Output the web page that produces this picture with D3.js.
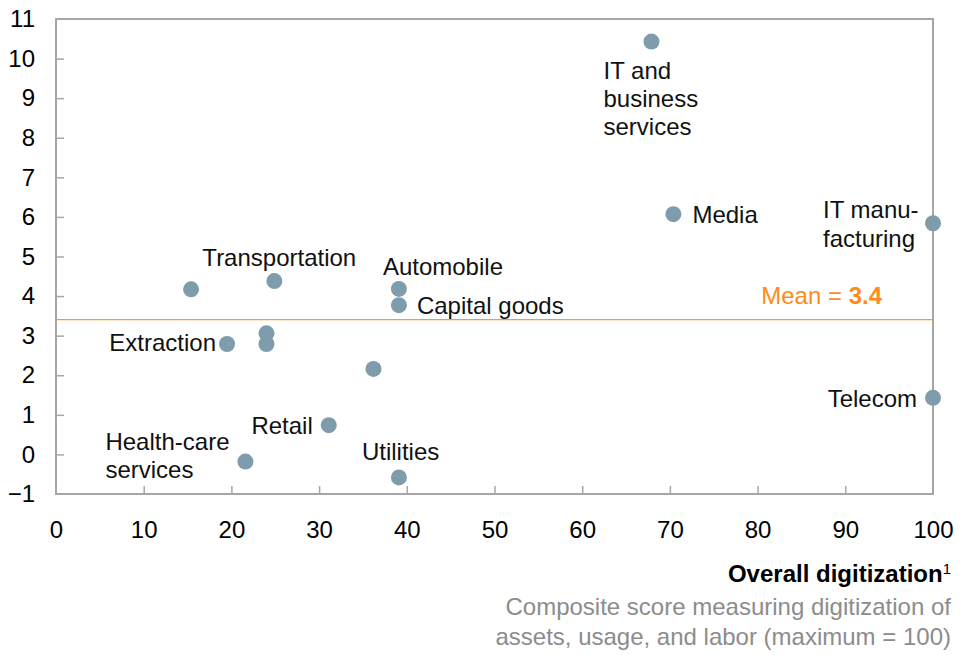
<!DOCTYPE html>
<html>
<head>
<meta charset="utf-8">
<script src="https://cdn.jsdelivr.net/npm/d3@7"></script>
<style>
  body { margin: 0; background: #fff; }
  svg { font-family: "Liberation Sans", Arial, sans-serif; font-size: 24px; }
  .axis text { font-size: 24px; fill: #000; }
  .axis line { stroke: #a6a6a6; stroke-width: 1.5; }
</style>
</head>
<body>
<div id="chart"></div>
<script>
// sectors, digitization score (x) and growth value (y)
var sectors = ["IT and business services", "Media", "IT manufacturing", "Telecom",
  "Transportation", "", "Automobile", "Capital goods", "", "", "Extraction", "",
  "Retail", "Health-care services", "Utilities"];
var digitization = [67.9, 70.4, 100, 100, 24.9, 15.4, 39.1, 39.1, 24.0, 24.0, 19.5, 36.2, 31.1, 21.6, 39.1];
var growth = [10.43, 6.07, 5.84, 1.43, 4.38, 4.17, 4.18, 3.77, 3.06, 2.79, 2.79, 2.16, 0.74, -0.18, -0.58];
var xTicks = [0, 10, 20, 30, 40, 50, 60, 70, 80, 90, 100];
var yTicks = [-1, 0, 1, 2, 3, 4, 5, 6, 7, 8, 9, 10, 11];

// label text lines and placement relative to each point
var labelLines = [["IT and", "business", "services"], ["Media"], ["IT manu-", "facturing"], ["Telecom"],
  ["Transportation"], [], ["Automobile"], ["Capital goods"], [], [], ["Extraction"], [],
  ["Retail"], ["Health-care", "services"], ["Utilities"]];
var labelPos = [[-48, 37, "start"], [19, 9, "start"], [-110, -5, "start"], [-16, 9, "end"],
  [-72, -15, "start"], null, [-16, -14, "start"], [18, 9, "start"], null, null, [-11, 7, "end"], null,
  [-16, 9, "end"], [-140, -12, "start"], [-37, -17, "start"]];

var w = 971, h = 655;
var plotLeft = 56, plotRight = 933, plotTop = 19, plotBottom = 494;
var lineGap = 28.3;

var svg = d3.select("#chart").append("svg")
  .attr("width", w)
  .attr("height", h);

var xScale = d3.scaleLinear().domain([0, 100]).range([plotLeft, plotRight]);
var yScale = d3.scaleLinear().domain([-1, 11]).range([plotBottom, plotTop]);

var xAxis = d3.axisBottom(xScale)
  .tickValues(xTicks)
  .tickSizeInner(-8)
  .tickSizeOuter(0)
  .tickPadding(27);

var yAxis = d3.axisLeft(yScale)
  .tickValues(yTicks)
  .tickSizeInner(-8)
  .tickSizeOuter(0)
  .tickPadding(21);

var gx = svg.append("g")
  .attr("class", "axis")
  .attr("transform", "translate(0," + plotBottom + ")")
  .call(xAxis);
gx.select(".domain").remove();
gx.selectAll(".tick").filter(function(d) { return d === 0 || d === 100; }).select("line").remove();

var gy = svg.append("g")
  .attr("class", "axis")
  .attr("transform", "translate(" + plotLeft + ",0)")
  .call(yAxis);
gy.select(".domain").remove();
gy.selectAll(".tick").filter(function(d) { return d === -1 || d === 11; }).select("line").remove();

// frame
svg.append("rect")
  .attr("x", plotLeft)
  .attr("y", plotTop)
  .attr("width", plotRight - plotLeft)
  .attr("height", plotBottom - plotTop)
  .attr("fill", "none")
  .attr("stroke", "#a6a6a6")
  .attr("stroke-width", 2);

// mean line
var meanValue = d3.mean(growth);
svg.append("line")
  .attr("x1", plotLeft)
  .attr("x2", plotRight)
  .attr("y1", yScale(meanValue))
  .attr("y2", yScale(meanValue))
  .attr("stroke", "#f39a3b")
  .attr("stroke-width", 1.2);

var meanLabel = svg.append("text")
  .attr("x", plotRight - 51)
  .attr("y", yScale(meanValue) - 16)
  .attr("text-anchor", "end")
  .attr("fill", "#ff8c1a");
meanLabel.append("tspan").text("Mean = ");
meanLabel.append("tspan").attr("font-weight", "bold").text(d3.format(".1f")(meanValue));

// points
var dataset = sectors.map(function(s, i) {
  return { name: s, x: digitization[i], y: growth[i], lines: labelLines[i], pos: labelPos[i] };
});

svg.selectAll("circle")
  .data(dataset)
  .enter()
  .append("circle")
  .attr("cx", function(d) { return xScale(d.x); })
  .attr("cy", function(d) { return yScale(d.y); })
  .attr("r", 8)
  .attr("fill", "#7f9cad");

var labels = svg.selectAll(".label")
  .data(dataset.filter(function(d) { return d.pos; }))
  .enter()
  .append("text")
  .attr("class", "label")
  .attr("text-anchor", function(d) { return d.pos[2]; })
  .attr("fill", "#111");

labels.selectAll("tspan")
  .data(function(d) { return d.lines.map(function(l, i) { return { t: l, i: i, p: d }; }); })
  .enter()
  .append("tspan")
  .attr("x", function(d) { return xScale(d.p.x) + d.p.pos[0]; })
  .attr("y", function(d) { return yScale(d.p.y) + d.p.pos[1] + d.i * lineGap; })
  .text(function(d) { return d.t; });

// axis title
var title = svg.append("text")
  .attr("x", 951)
  .attr("y", 582)
  .attr("text-anchor", "end")
  .attr("fill", "#000");
title.append("tspan").attr("font-weight", "bold").text("Overall digitization");
title.append("tspan").attr("font-size", 15).attr("dy", -8).text("1");

svg.append("text")
  .attr("x", 951)
  .attr("y", 615)
  .attr("text-anchor", "end")
  .attr("fill", "#8c8c8c")
  .text("Composite score measuring digitization of");

svg.append("text")
  .attr("x", 951)
  .attr("y", 645)
  .attr("text-anchor", "end")
  .attr("fill", "#8c8c8c")
  .text("assets, usage, and labor (maximum = 100)");
</script>
</body>
</html>
